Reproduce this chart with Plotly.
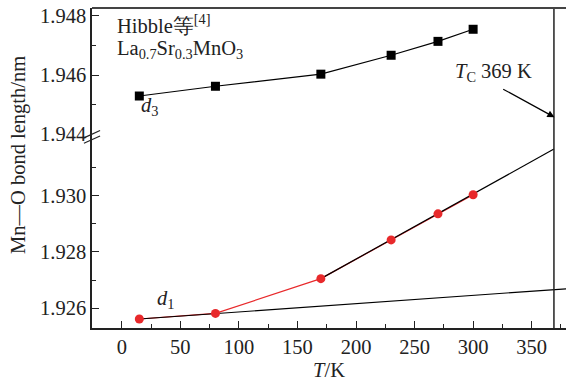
import plotly.graph_objects as go

# ---- data ----
T = [15, 80, 170, 230, 270, 300]
d3 = [1.94529, 1.94562, 1.94603, 1.94667, 1.94714, 1.94755]
d1 = [1.92561, 1.92581, 1.92705, 1.92843, 1.92936, 1.93004]
fit_high_T = [170, 369]
fit_high_d = [1.92705, 1.93167]
fit_low_T = [15, 380]
fit_low_d = [1.92561, 1.92669]
TC = 369
x_ticks = [0, 50, 100, 150, 200, 250, 300, 350]
y_upper_ticks = [1.944, 1.946, 1.948]
y_lower_ticks = [1.926, 1.928, 1.930]

FONT = "Liberation Serif"
FS = 20.5
AX = "#222222"
RED = "#e8292b"

fig = go.Figure()
# upper panel: d3
fig.add_trace(go.Scatter(x=T, y=d3, xaxis="x2", yaxis="y2", mode="lines+markers",
                         line=dict(color="black", width=1.2),
                         marker=dict(symbol="square", size=9, color="black"),
                         showlegend=False))
# lower panel: d1
fig.add_trace(go.Scatter(x=T, y=d1, mode="lines", line=dict(color=RED, width=1.2),
                         showlegend=False))
fig.add_trace(go.Scatter(x=fit_high_T, y=fit_high_d, mode="lines",
                         line=dict(color="black", width=1.2), showlegend=False))
fig.add_trace(go.Scatter(x=fit_low_T, y=fit_low_d, mode="lines",
                         line=dict(color="black", width=1.2), showlegend=False))
fig.add_trace(go.Scatter(x=T, y=d1, mode="markers",
                         marker=dict(symbol="circle", size=9, color=RED),
                         showlegend=False))

split = (328 - 135) / 320.0

tfont = dict(family=FONT, size=FS, color="#222")
common_y = dict(showgrid=False, zeroline=False, showline=True, linecolor=AX, linewidth=1.5,
                ticks="inside", ticklen=7, tickwidth=1.2, tickcolor=AX,
                tickformat=".3f", tickfont=tfont)

fig.update_layout(
    width=566, height=381,
    margin=dict(l=92, r=0, t=8, b=53),
    paper_bgcolor="white", plot_bgcolor="white",
    font=tfont,
    xaxis=dict(domain=[0, 1], anchor="y", range=[-25.4, 379.3], showgrid=False, zeroline=False,
               showline=True, linecolor=AX, linewidth=1.5, ticks="inside", ticklen=7,
               tickwidth=1.2, tickcolor=AX, tickvals=x_ticks, tickfont=tfont,
               minor=dict(ticks="inside", ticklen=4, tickwidth=1.2, tickcolor=AX, dtick=25),
               title=dict(text="<i>T</i>/K", font=tfont, standoff=6)),
    xaxis2=dict(domain=[0, 1], anchor="y2", matches="x", visible=False),
    yaxis=dict(domain=[0, split], range=[1.92529, 1.93217], tickvals=y_lower_ticks,
               minor=dict(ticks="inside", ticklen=4, tickwidth=1.2, tickcolor=AX,
                          tickvals=[1.927, 1.929, 1.931]),
               **common_y),
    yaxis2=dict(domain=[split, 1], range=[1.94397, 1.94827], tickvals=y_upper_ticks,
                minor=dict(ticks="inside", ticklen=4, tickwidth=1.2, tickcolor=AX,
                           tickvals=[1.945, 1.947]),
                **common_y),
)

# Curie temperature vertical line
fig.add_shape(type="line", xref="x", yref="paper", x0=TC, x1=TC, y0=0, y1=1,
              line=dict(color=AX, width=1.5))
# top border
fig.add_shape(type="line", xref="paper", yref="paper", x0=0, x1=1, y0=1, y1=1,
              line=dict(color="#444", width=2))
# axis break marks
for dy in (0.0, -0.017):
    fig.add_shape(type="line", xref="paper", yref="paper",
                  x0=-0.017, x1=0.017, y0=split - 0.009 + dy, y1=split + 0.014 + dy,
                  line=dict(color=AX, width=1.2))

fig.add_annotation(x=-5.7, y=1.94773, xref="x2", yref="y2", text="Hibble等<sup>[4]</sup>",
                   showarrow=False, xanchor="left", yanchor="middle", font=tfont)
fig.add_annotation(x=-5.7, y=1.94688, xref="x2", yref="y2",
                   text="La<sub>0.7</sub>Sr<sub>0.3</sub>MnO<sub>3</sub>",
                   showarrow=False, xanchor="left", yanchor="middle", font=tfont)
fig.add_annotation(x=24, y=1.94492, xref="x2", yref="y2", text="<i>d</i><sub>3</sub>",
                   showarrow=False, font=tfont)
fig.add_annotation(x=37, y=1.92632, xref="x", yref="y", text="<i>d</i><sub>1</sub>",
                   showarrow=False, font=tfont)
fig.add_annotation(x=317, y=1.9461, xref="x2", yref="y2", text="<i>T</i><sub>C</sub> 369 K",
                   showarrow=False, font=tfont)
fig.add_annotation(x=TC + 0.5, y=1.94457, xref="x2", yref="y2", ax=324.4, ay=1.94555,
                   axref="x2", ayref="y2", text="", showarrow=True, arrowhead=2,
                   arrowsize=1.2, arrowwidth=1.2, arrowcolor="black")

# y-axis title spanning both panels
fig.add_annotation(x=-(92 - 18) / 474.0, y=(328 - 155) / 320.0, xref="paper", yref="paper",
                   text="Mn—O bond length/nm", textangle=-90, showarrow=False,
                   xanchor="center", yanchor="middle", font=tfont)

fig.write_html("out.html")
